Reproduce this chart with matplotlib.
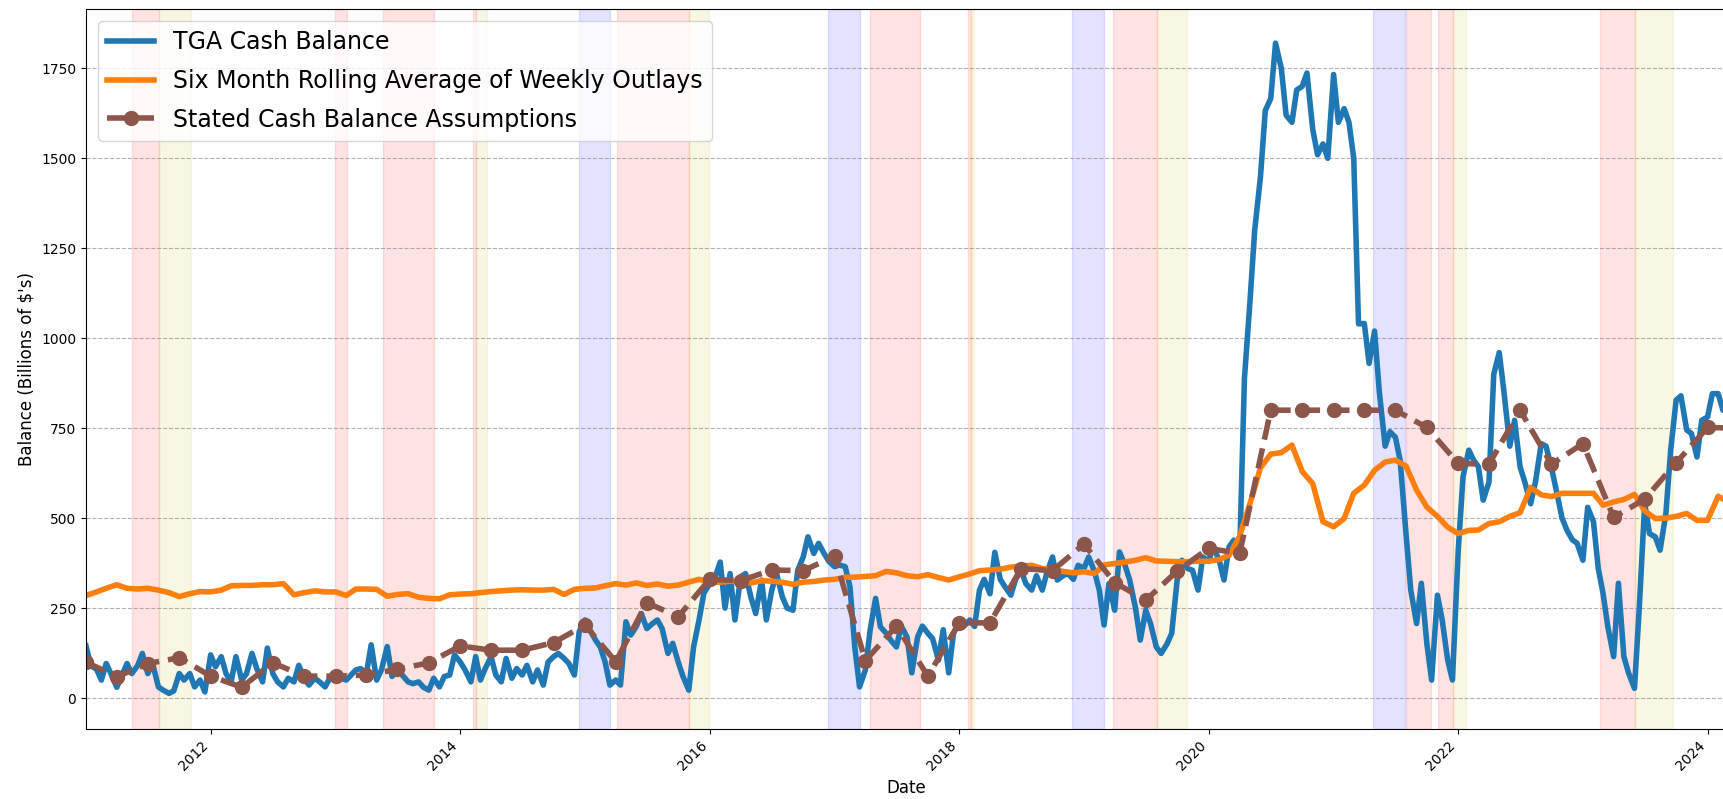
import numpy as np
import pandas as pd
import matplotlib
matplotlib.use("Agg")
from matplotlib import pyplot as plt
import matplotlib.dates as mdates

# TGA cash balance, semi-monthly samples (billions of $), 2011-01-01 .. 2024-03-01
tga_2011 = [145, 90, 80, 50, 96, 68, 30, 60, 96, 68, 90, 124, 68, 96, 31, 22, 13, 20, 68, 50, 68, 31, 50, 17]
tga_2012 = [120, 87, 115, 68, 45, 115, 50, 68, 124, 82, 45, 139, 68, 45, 31, 55, 45, 91, 55, 36, 55, 45, 31, 55]
tga_2013 = [50, 55, 50, 64, 78, 82, 68, 148, 50, 78, 143, 60, 78, 64, 45, 40, 45, 30, 22, 55, 31, 60, 64, 120]
tga_2014 = [100, 78, 45, 115, 50, 82, 115, 64, 45, 110, 55, 82, 64, 91, 45, 78, 36, 100, 115, 124, 110, 96, 64, 184]
tga_2015 = [217, 190, 161, 142, 100, 36, 50, 36, 212, 175, 200, 235, 193, 205, 217, 193, 124, 152, 100, 60, 22, 142, 217, 291]
tga_2016 = [318, 330, 378, 250, 346, 217, 337, 346, 280, 235, 328, 217, 300, 346, 281, 250, 244, 355, 392, 448, 402, 430, 402, 380]
tga_2017 = [365, 370, 365, 309, 142, 31, 78, 189, 277, 198, 180, 160, 142, 200, 170, 70, 170, 200, 180, 165, 105, 190, 70, 180]
tga_2018 = [210, 200, 217, 199, 300, 330, 290, 405, 330, 309, 286, 330, 355, 318, 300, 340, 300, 350, 392, 328, 340, 346, 330, 369]
tga_2019 = [360, 392, 351, 300, 203, 318, 244, 406, 370, 328, 250, 161, 244, 207, 142, 124, 150, 180, 328, 383, 360, 355, 300, 392]
tga_2020 = [380, 420, 383, 328, 420, 439, 400, 889, 1100, 1300, 1450, 1633, 1666, 1820, 1750, 1620, 1600, 1690, 1700, 1737, 1580, 1510, 1540, 1500]
tga_2021 = [1733, 1600, 1638, 1600, 1500, 1040, 1041, 930, 1020, 850, 700, 740, 725, 660, 457, 300, 207, 319, 152, 50, 286, 217, 106, 50]
tga_2022 = [411, 615, 689, 661, 643, 550, 600, 900, 960, 850, 700, 772, 643, 600, 540, 600, 707, 700, 640, 578, 500, 467, 440, 430]
tga_2023 = [383, 530, 490, 360, 291, 198, 115, 319, 115, 69, 27, 250, 541, 457, 448, 411, 513, 689, 828, 840, 745, 735, 670, 772]
tga_2024 = [781, 846, 846, 800, 800]

# six month rolling average of weekly outlays, monthly samples from 2011-01
outlays = [285, 295, 305, 315, 305, 303, 305, 300, 293, 282, 290, 296,
           295, 300, 312, 313, 313, 315, 315, 318, 287, 293, 298, 295,
           295, 285, 303, 303, 302, 283, 288, 290, 280, 277, 276, 287,
           289, 290, 293, 296, 298, 300, 301, 300, 300, 302, 288, 302,
           305, 306, 312, 318, 314, 320, 313, 317, 311, 314, 322, 330,
           322, 322, 325, 322, 320, 326, 325, 322, 316, 322, 324, 328,
           330, 336, 336, 338, 340, 352, 348, 340, 337, 343, 335, 328,
           337, 345, 354, 356, 358, 364, 367, 369, 360, 357, 352, 348,
           351, 346, 370, 374, 378, 383, 390, 381, 380, 379, 379, 380,
           380, 385, 397, 450, 540, 640, 678, 682, 703, 630, 596, 490,
           476, 499, 569, 592, 633, 656, 661, 645, 578, 531, 505, 475,
           457, 466, 467, 485, 490, 505, 515, 585, 565, 560, 569, 569,
           569, 569, 536, 545, 552, 566, 520, 499, 500, 505, 513, 494,
           494, 561, 545]

# stated cash balance assumptions, quarterly from 2011-01
assumptions = [100, 59, 96, 112,
               61, 30, 98, 61,
               61, 64, 80, 98,
               145, 133, 133, 154,
               203, 101, 265, 226,
               330, 326, 356, 354,
               394, 104, 200, 61,
               209, 209, 360, 354,
               428, 321, 272, 353,
               416, 402, 800, 800,
               800, 800, 800, 752,
               652, 650, 800, 650,
               707, 502, 553, 654,
               752, 750]

red_periods = [('2011-05-16', '2011-08-02'), ('2012-12-31', '2013-02-04'), ('2013-05-19', '2013-10-17'),
               ('2014-02-07', '2014-02-15'), ('2015-04-05', '2015-11-02'), ('2017-04-16', '2017-09-08'),
               ('2018-01-26', '2018-02-05'), ('2019-03-28', '2019-08-02'), ('2021-08-01', '2021-10-14'),
               ('2021-11-04', '2021-12-16'), ('2023-02-19', '2023-06-03')]
yellow_periods = [('2011-08-02', '2011-11-03'), ('2014-02-15', '2014-03-19'), ('2015-11-02', '2015-12-30'),
                  ('2018-02-05', '2018-02-12'), ('2019-08-02', '2019-10-29'), ('2021-12-16', '2022-01-23'),
                  ('2023-06-03', '2023-09-23')]
blue_periods = [('2014-12-14', '2015-03-15'), ('2016-12-14', '2017-03-15'), ('2018-11-28', '2019-03-01'),
                ('2021-04-26', '2021-07-30')]

tga = tga_2011 + tga_2012 + tga_2013 + tga_2014 + tga_2015 + tga_2016 + tga_2017 + \
      tga_2018 + tga_2019 + tga_2020 + tga_2021 + tga_2022 + tga_2023 + tga_2024
tga_dates = pd.date_range('2011-01-01', periods=len(tga), freq='SMS')
outlay_dates = pd.date_range('2011-01-01', periods=len(outlays), freq='MS')
assumption_dates = pd.date_range('2011-01-01', periods=len(assumptions), freq='QS')

fig = plt.figure(figsize=(17.24, 7.99), dpi=100)
ax = fig.add_axes([86/1724, 70/799, 1640/1724, 720/799])

for s, e in red_periods:
    ax.axvspan(pd.Timestamp(s), pd.Timestamp(e), color='red', alpha=0.11)
for s, e in yellow_periods:
    ax.axvspan(pd.Timestamp(s), pd.Timestamp(e), color='y', alpha=0.11)
for s, e in blue_periods:
    ax.axvspan(pd.Timestamp(s), pd.Timestamp(e), color='blue', alpha=0.11)

ax.plot(tga_dates, tga, color='#1f77b4', linewidth=4, label='TGA Cash Balance')
ax.plot(outlay_dates, outlays, color='#ff7f0e', linewidth=4,
        label='Six Month Rolling Average of Weekly Outlays')
ax.plot(assumption_dates, assumptions, '--o', color='#8c564b', linewidth=4, markersize=10,
        label='Stated Cash Balance Assumptions')

ax.set_xlim(pd.Timestamp('2011-01-01'), pd.Timestamp('2024-02-24'))
ax.set_ylim(-86, 1915)
ax.set_yticks(np.arange(0, 2000, 250))
ax.xaxis.set_major_locator(mdates.YearLocator(2))
ax.xaxis.set_major_formatter(mdates.DateFormatter('%Y'))
plt.setp(ax.get_xticklabels(), rotation=45, ha='right')

ax.grid(axis='y', linestyle='--', color='gray', alpha=0.6)
ax.set_xlabel('Date', fontsize=12)
ax.set_ylabel("Balance (Billions of $'s)", fontsize=12)
ax.legend(loc='upper left', fontsize=17, labelspacing=0.62)

fig.savefig('out.png', dpi=100)
